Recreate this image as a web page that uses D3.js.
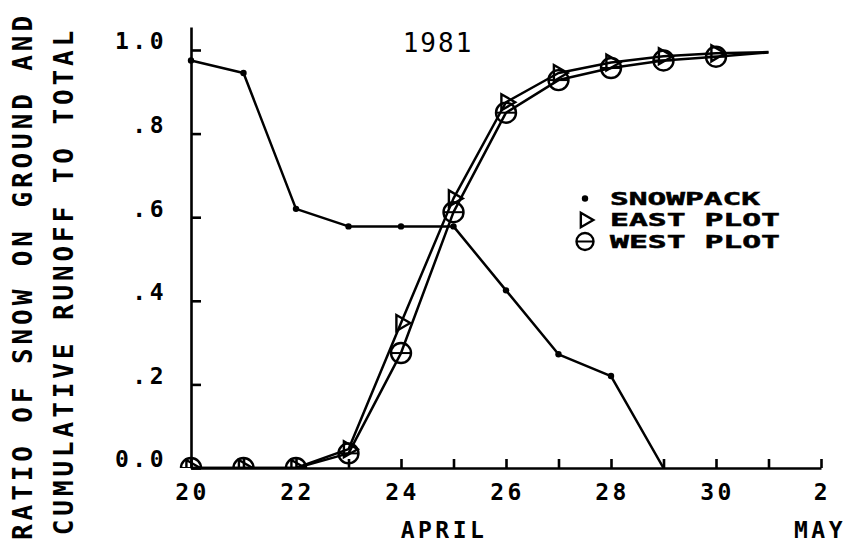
<!DOCTYPE html>
<meta charset="utf-8">
<title>1981 snowpack and runoff</title>
<body style="margin:0;background:#fff;">
<div id="chart"></div>
<script src="https://d3js.org/d3.v7.min.js"></script>
<script>
// days since April 1 (32 = May 2)
const days = [20, 21, 22, 23, 24, 25, 26, 27, 28, 29, 30, 31];
const snowpack = [0.975, 0.945, 0.62, 0.578, 0.578, 0.578, 0.425, 0.272, 0.22, 0.0];
const eastPlot = [0, 0, 0, 0.045, 0.347, 0.645, 0.875, 0.945, 0.97, 0.985, 0.992, 0.995];
const westPlot = [0, 0, 0, 0.035, 0.275, 0.612, 0.85, 0.928, 0.957, 0.975, 0.984, 0.994];
const markerDays = 11; // last point of runoff lines has no marker
const xTickDays = d3.range(20, 33);
const xTickLabels = {20: "20", 22: "22", 24: "24", 26: "26", 28: "28", 30: "30", 32: "2"};
const yTicks = [0, 0.2, 0.4, 0.6, 0.8, 1.0];
const yTickLabels = ["0.0", ".2", ".4", ".6", ".8", "1.0"];
const legendItems = ["SNOWPACK", "EAST PLOT", "WEST PLOT"];
const legendWidths = [150, 170, 170];

const W = 850, H = 542;
const FONT = "'DejaVu Sans Mono', monospace";

const svg = d3.select("#chart").append("svg")
  .attr("width", W).attr("height", H)
  .style("font-family", FONT);

const x = d3.scaleLinear().domain([20, 32]).range([191, 821]);
const y = d3.scaleLinear().domain([0, 1.055]).range([468, 27]);

svg.append("clipPath").attr("id", "plot")
  .append("rect").attr("x", 150).attr("y", 0).attr("width", 700).attr("height", 468);

// x axis, ticks pointing up
const xAxis = svg.append("g")
  .attr("transform", `translate(0,${y(0)})`)
  .call(d3.axisBottom(x)
    .tickValues(xTickDays)
    .tickSizeInner(-9).tickSizeOuter(0).tickPadding(22)
    .tickFormat(d => xTickLabels[d] || ""));

// y axis, ticks pointing right
const yAxis = svg.append("g")
  .attr("transform", `translate(${x(20)},0)`)
  .call(d3.axisLeft(y)
    .tickValues(yTicks)
    .tickSizeInner(-10).tickSizeOuter(0).tickPadding(24)
    .tickFormat((d, i) => yTickLabels[i]));

svg.selectAll(".domain, .tick line")
  .attr("stroke", "#000").attr("stroke-width", 2.6);
svg.selectAll(".tick text")
  .attr("fill", "#000")
  .style("font-family", FONT).style("font-size", "23px").style("font-weight", "bold")
  .style("letter-spacing", "3.5px");
yAxis.selectAll(".tick text").attr("dy", "-0.05em");
xAxis.selectAll(".tick text").attr("dy", "0.45em").attr("dx", "1px");

const plot = svg.append("g").attr("clip-path", "url(#plot)");

const line = d3.line()
  .x(d => x(d[0]))
  .y(d => y(d[1]));

const snowData = snowpack.map((v, i) => [days[i], v]);
const eastData = eastPlot.map((v, i) => [days[i], v]);
const westData = westPlot.map((v, i) => [days[i], v]);

[snowData, eastData, westData].forEach(data => {
  plot.append("path")
    .datum(data)
    .attr("d", line)
    .attr("fill", "none")
    .attr("stroke", "#000")
    .attr("stroke-width", 2.5)
    .attr("stroke-linejoin", "round");
});

// snowpack dots
plot.selectAll(".snow")
  .data(snowData.slice(0, 9))
  .join("circle")
  .attr("cx", d => x(d[0])).attr("cy", d => y(d[1]))
  .attr("r", 3.2).attr("fill", "#000");

// east plot triangles (pointing right)
const tri = d3.symbol().type(d3.symbolTriangle).size(110);
plot.selectAll(".east")
  .data(eastData.slice(0, markerDays))
  .join("path")
  .attr("d", tri)
  .attr("transform", d => `translate(${x(d[0])},${y(d[1])}) rotate(90)`)
  .attr("fill", "none")
  .attr("stroke", "#000").attr("stroke-width", 2.4);

// west plot circles with a bar
const west = plot.selectAll(".west")
  .data(westData.slice(0, markerDays))
  .join("g")
  .attr("transform", d => `translate(${x(d[0])},${y(d[1])})`);
west.append("circle").attr("r", 10)
  .attr("fill", "none").attr("stroke", "#000").attr("stroke-width", 2.4);
west.append("line").attr("x1", -10).attr("x2", 10)
  .attr("stroke", "#000").attr("stroke-width", 2);

// title
svg.append("text")
  .attr("x", 438).attr("y", 52)
  .attr("text-anchor", "middle")
  .style("font-size", "26px").style("letter-spacing", "2px")
  .text("1981");

// axis titles
const yTitle = ["RATIO OF SNOW ON GROUND AND", "CUMULATIVE RUNOFF TO TOTAL"];
const yTitleX = [32, 73];
yTitle.forEach((t, i) => {
  svg.append("text")
    .attr("transform", `translate(${yTitleX[i]},${i === 0 ? 276 : 281}) rotate(-90)`)
    .attr("text-anchor", "middle")
    .style("font-size", "26px").style("font-weight", "bold")
    .style("letter-spacing", "3.9px")
    .text(t);
});

svg.append("text")
  .attr("x", 444).attr("y", 538)
  .attr("text-anchor", "middle")
  .style("font-size", "23px").style("font-weight", "bold").style("letter-spacing", "3.5px")
  .text("APRIL");
svg.append("text")
  .attr("x", 820).attr("y", 538)
  .attr("text-anchor", "middle")
  .style("font-size", "23px").style("font-weight", "bold").style("letter-spacing", "3.5px")
  .text("MAY");

// legend
const legend = svg.append("g");
const rows = legend.selectAll("g")
  .data(legendItems)
  .join("g")
  .attr("transform", (d, i) => `translate(585,${198.5 + i * 21.5})`);
rows.append("text")
  .attr("x", 25).attr("dy", "0.36em")
  .attr("textLength", (d, i) => legendWidths[i])
  .attr("lengthAdjust", "spacingAndGlyphs")
  .style("font-size", "18px").style("font-weight", "bold")
  .attr("stroke", "#000").attr("stroke-width", 0.5)
  .text(d => d);
rows.filter((d, i) => i === 0).append("circle").attr("r", 3.2).attr("fill", "#000");
rows.filter((d, i) => i === 1).append("path")
  .attr("d", d3.symbol().type(d3.symbolTriangle).size(90))
  .attr("transform", "rotate(90)")
  .attr("fill", "none").attr("stroke", "#000").attr("stroke-width", 2.4);
const wl = rows.filter((d, i) => i === 2);
wl.append("circle").attr("r", 8.5)
  .attr("fill", "none").attr("stroke", "#000").attr("stroke-width", 2.4);
wl.append("line").attr("x1", -8.5).attr("x2", 8.5)
  .attr("stroke", "#000").attr("stroke-width", 2);
</script>
